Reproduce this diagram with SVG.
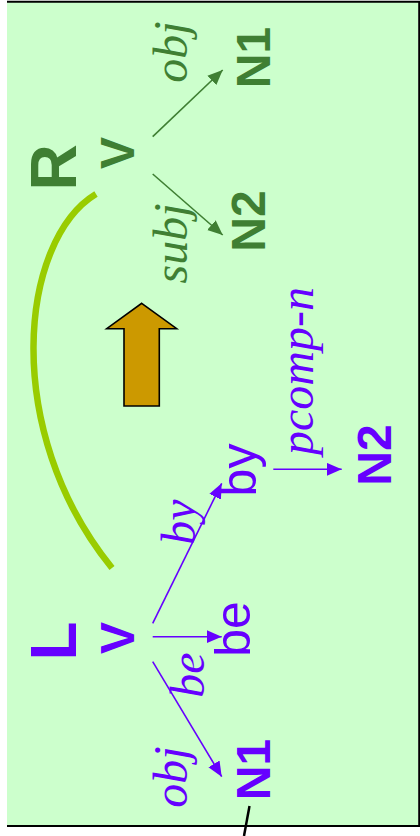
<svg xmlns="http://www.w3.org/2000/svg" width="420" height="836" viewBox="0 0 420 836">
<style>
.bg{fill:#CCFFCC}
.frame{stroke:#000;stroke-width:2;fill:none}
.big{font-family:"Liberation Sans",Arial,sans-serif;font-weight:bold;font-size:64px}
.node{font-family:"Liberation Sans",Arial,sans-serif;font-weight:bold;font-size:48px}
.word{font-family:"Liberation Sans",Arial,sans-serif;font-size:50px}
.lab{font-family:"Liberation Serif","Times New Roman",serif;font-style:italic;font-size:48px}
.g{fill:#3F7F33}
.p{fill:#6600FF}
.eg{stroke:#3F7F33;stroke-width:1.6;fill:none}
.ep{stroke:#6600FF;stroke-width:1.6;fill:none}
</style>
<defs>
<marker id="ag" markerUnits="userSpaceOnUse" markerWidth="16" markerHeight="14" refX="15" refY="6.5" orient="auto">
<path d="M0,0 L15,6.5 L0,13 z" fill="#3F7F33"/>
</marker>
<marker id="ap" markerUnits="userSpaceOnUse" markerWidth="16" markerHeight="14" refX="15" refY="6.5" orient="auto">
<path d="M0,0 L15,6.5 L0,13 z" fill="#6600FF"/>
</marker>
</defs>
<rect class="bg" x="7" y="2" width="411" height="823"/>
<path class="frame" d="M7,1.8 H419.2 V826 H7"/>
<path d="M249.5,806 L244,836" stroke="#000" stroke-width="2.5" fill="none"/>
<path id="arc" d="M96,194 C20,240 0,430 112,568" stroke="#99CC00" stroke-width="6.5" fill="none"/>
<path id="bigarrow" d="M141.7,303.3 L176.7,328.7 L159.3,328.7 L159.3,406 L124,406 L124,328.7 L106.7,328.7 Z" fill="#CC9900" stroke="#000" stroke-width="1.6" stroke-linejoin="miter"/>
<g id="connectors">
<path class="eg" d="M152.7,136.7 L222.7,70" marker-end="url(#ag)"/>
<path class="eg" d="M152.7,174 L222.7,235" marker-end="url(#ag)"/>
<path class="ep" d="M152.7,623.3 L221.7,483.3" marker-end="url(#ap)"/>
<path class="ep" d="M152.7,636.7 L221.7,636.7" marker-end="url(#ap)"/>
<path class="ep" d="M152.7,661.7 L221.7,776.7" marker-end="url(#ap)"/>
<path class="ep" d="M273.3,469.3 L341.7,469.3" marker-end="url(#ap)"/>
<text class="lab g" text-anchor="middle" transform="translate(187,52) rotate(-90)">obj</text>
<text class="lab g" text-anchor="middle" transform="translate(187,243.5) rotate(-90)">subj</text>
<text class="lab p" text-anchor="middle" transform="translate(195,522) rotate(-90)">by</text>
<text class="lab p" text-anchor="middle" transform="translate(204,675) rotate(-90)">be</text>
<text class="lab p" text-anchor="middle" transform="translate(187,777) rotate(-90)">obj</text>
<text class="lab p" text-anchor="middle" transform="translate(313,371) rotate(-90)">pcomp-n</text>
</g>
<g id="R"><text class="big g" text-anchor="middle" transform="translate(76,167.5) rotate(-90)">R</text></g>
<g id="Rv"><text class="node g" text-anchor="middle" transform="translate(134,153) rotate(-90)">V</text></g>
<g id="Rn1"><text class="node g" text-anchor="middle" transform="translate(270,57.5) rotate(-90)">N1</text></g>
<g id="Rn2"><text class="node g" text-anchor="middle" transform="translate(265,221) rotate(-90)">N2</text></g>
<g id="L"><text class="big p" text-anchor="middle" transform="translate(76,641) rotate(-90)">L</text></g>
<g id="Lv"><text class="node p" text-anchor="middle" transform="translate(134,638) rotate(-90)">V</text></g>
<g id="Lbe"><text class="word p" text-anchor="middle" transform="translate(250,629) rotate(-90)">be</text></g>
<g id="Lby"><text class="word p" text-anchor="middle" transform="translate(256,470) rotate(-90)">by</text></g>
<g id="Ln2"><text class="node p" text-anchor="middle" transform="translate(391,455) rotate(-90)">N2</text></g>
<g id="Ln1"><text class="node p" text-anchor="middle" transform="translate(270,769.5) rotate(-90)">N1</text></g>
</svg>
